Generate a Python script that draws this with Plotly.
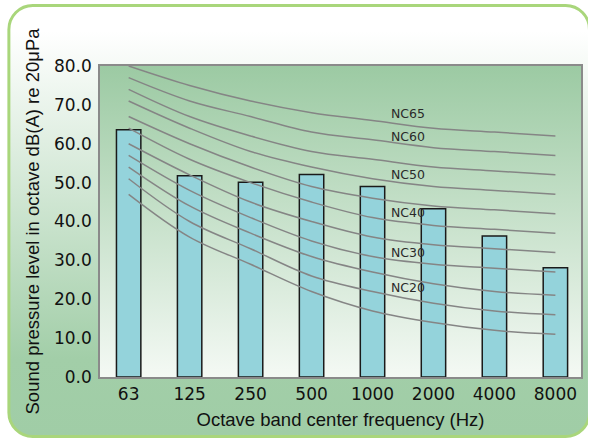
import base64
import plotly.graph_objects as go

# ---------------- data ----------------
freq_labels = ["63", "125", "250", "500", "1000", "2000", "4000", "8000"]
measured_levels = [63.6, 51.8, 50.1, 52.1, 49.0, 43.3, 36.3, 28.1]

nc_names = ["NC15", "NC20", "NC25", "NC30", "NC35", "NC40",
            "NC45", "NC50", "NC55", "NC60", "NC65"]
nc15 = [47, 36, 29, 22, 17, 14, 12, 11]
nc20 = [51, 40, 33, 26, 22, 19, 17, 16]
nc25 = [54, 44, 37, 31, 27, 24, 22, 21]
nc30 = [57, 48, 41, 35, 31, 29, 28, 27]
nc35 = [60, 52, 45, 40, 36, 34, 33, 32]
nc40 = [64, 56, 50, 45, 41, 39, 38, 37]
nc45 = [67, 60, 54, 49, 46, 44, 43, 42]
nc50 = [71, 64, 58, 54, 51, 49, 48, 47]
nc55 = [74, 67, 62, 58, 56, 54, 53, 52]
nc60 = [77, 71, 67, 63, 61, 59, 58, 57]
nc65 = [80, 75, 71, 68, 66, 64, 63, 62]
nc_curves = [nc15, nc20, nc25, nc30, nc35, nc40, nc45, nc50, nc55, nc60, nc65]

label_names = ["NC65", "NC60", "NC50", "NC40", "NC30", "NC20"]
label_levels = [67.7, 61.9, 52.0, 42.3, 31.9, 23.0]
label_pos = 4.27

y_ticks = [0, 10, 20, 30, 40, 50, 60, 70, 80]

# ---------------- layout geometry ----------------
W, H = 590, 440
ML, MR, MT, MB = 100, 7, 66, 63
PW, PH = W - ML - MR, H - MT - MB

# background: rounded panel with gradient + plot-area gradient (svg image)
svg = f'''<svg xmlns="http://www.w3.org/2000/svg" width="{W}" height="{H}" viewBox="0 0 {W} {H}">
<defs>
<linearGradient id="g1" x1="0" y1="0" x2="0" y2="1">
<stop offset="0" stop-color="#ffffff"/><stop offset="0.06" stop-color="#ffffff"/>
<stop offset="0.82" stop-color="#a2cea8"/><stop offset="1" stop-color="#a0cda6"/>
</linearGradient>
<linearGradient id="g2" x1="0" y1="0" x2="0" y2="1">
<stop offset="0" stop-color="#9ccaa3"/><stop offset="1" stop-color="#f4f9f4"/>
</linearGradient>
</defs>
<rect x="8.5" y="5.5" width="583" height="431" rx="24" ry="24" fill="url(#g1)" stroke="#a9d67b" stroke-width="3"/>
<rect x="{ML}" y="{MT}" width="{PW}" height="{PH}" fill="url(#g2)"/>
</svg>'''
svg_uri = "data:image/svg+xml;base64," + base64.b64encode(svg.encode()).decode()

fig = go.Figure()

fig.add_trace(go.Bar(
    x=freq_labels, y=measured_levels, width=0.4,
    marker=dict(color="#94d3db", line=dict(color="#1a1a1a", width=1.5)),
    showlegend=False, hoverinfo="x+y",
))

for name, vals in zip(nc_names, nc_curves):
    fig.add_trace(go.Scatter(
        x=freq_labels, y=vals, mode="lines", name=name,
        line=dict(color="#858585", width=1.5, shape="spline", smoothing=1.0),
        showlegend=False,
    ))

for name, lv in zip(label_names, label_levels):
    fig.add_annotation(
        x=label_pos, y=lv, text=name, showarrow=False,
        xanchor="left", yanchor="middle",
        font=dict(family="DejaVu Sans", size=12.5, color="#2a2a2a"),
    )

fig.update_layout(
    width=W, height=H,
    margin=dict(l=ML, r=MR, t=MT, b=MB, pad=0),
    paper_bgcolor="white",
    plot_bgcolor="rgba(0,0,0,0)",
    images=[dict(source=svg_uri, xref="paper", yref="paper",
                 x=-ML / PW, y=1 + MT / PH, sizex=W / PW, sizey=H / PH,
                 xanchor="left", yanchor="top", sizing="stretch", layer="below")],
    bargap=0.6,
)

fig.update_xaxes(
    type="category", range=[-0.47, 7.42],
    showgrid=False, zeroline=False,
    showline=True, linecolor="#8a8a8a", linewidth=1.5, mirror=True,
    ticks="", ticklabelstandoff=1,
    tickfont=dict(family="DejaVu Sans", size=17, color="#111"),
    title=dict(text="Octave band center frequency (Hz)", standoff=10,
               font=dict(family="Liberation Sans", size=18.5, color="#111")),
)
fig.update_yaxes(
    range=[0, 80], tickvals=y_ticks, tickformat=".1f",
    showgrid=False, zeroline=False,
    showline=True, linecolor="#8a8a8a", linewidth=1.5, mirror=True,
    ticks="", ticklabelstandoff=3,
    tickfont=dict(family="DejaVu Sans", size=17, color="#111"),
    title=dict(text="Sound pressure level in octave dB(A) re 20μPa", standoff=10,
               font=dict(family="Liberation Sans", size=18.5, color="#111")),
)

fig.write_html("out.html",
               config={"displayModeBar": False},
               post_script="document.body.style.margin='0px';document.body.style.overflow='hidden';")
